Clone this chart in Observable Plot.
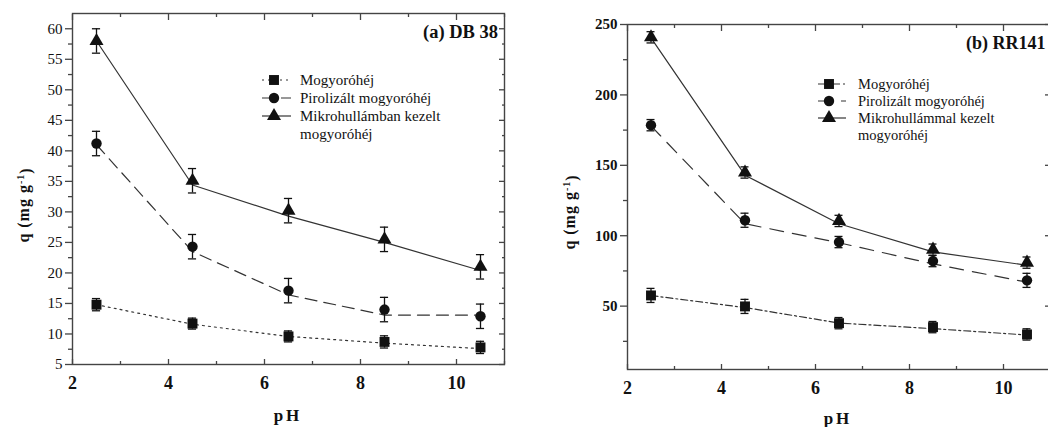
<!DOCTYPE html>
<html><head><meta charset="utf-8">
<script src="https://cdn.jsdelivr.net/npm/d3@7"></script>
<script src="https://cdn.jsdelivr.net/npm/@observablehq/plot@0.6"></script>
<style>
body{margin:0;width:1048px;height:427px;overflow:hidden;background:#fff;position:relative}
#a,#b{position:absolute;top:0;height:427px}
#a{left:0;width:530px}#b{left:545px;width:515px}
svg{overflow:visible;max-width:none !important;height:427px !important}
</style></head><body><div id="a"></div><div id="b"></div>
<script>
// ---------- data ----------
const pH = [2.5, 4.5, 6.5, 8.5, 10.5];

// Panel (a) DB 38
const aMogy = [14.8, 11.7, 9.6, 8.7, 7.8];
const aMogyErr = [1.0, 0.9, 0.9, 1.0, 1.0];
const aMogyFit = [14.8, 11.6, 9.6, 8.5, 7.6];
const aPiro = [41.2, 24.3, 17.1, 14.0, 12.9];
const aPiroErr = [2.0, 2.0, 2.0, 2.0, 2.0];
const aPiroFit = [41.0, 23.5, 16.4, 13.1, 13.1];
const aMikro = [58.0, 35.1, 30.2, 25.5, 21.0];
const aMikroErr = [2.0, 2.0, 2.0, 2.0, 2.0];
const aMikroFit = [58.0, 34.4, 29.3, 25.0, 20.4];
const aLegend = ["Mogyoróhéj", "Pirolizált mogyoróhéj", "Mikrohullámban kezelt", "mogyoróhéj"];
const aTitle = "(a) DB 38";
const aYTicks = [5, 10, 15, 20, 25, 30, 35, 40, 45, 50, 55, 60];
const aYMinor = [7.5, 12.5, 17.5, 22.5, 27.5, 32.5, 37.5, 42.5, 47.5, 52.5, 57.5];

// Panel (b) RR141
const bMogy = [57.6, 49.8, 37.9, 35.1, 29.9];
const bMogyErr = [5, 5, 4, 4, 4];
const bMogyFit = [57.5, 49.0, 38.0, 34.0, 29.5];
const bPiro = [178.5, 111.0, 95.5, 82.0, 68.3];
const bPiroErr = [4, 5, 4, 4, 5];
const bPiroFit = [178.0, 108.5, 95.0, 80.0, 67.0];
const bMikro = [240.9, 144.9, 110.5, 90.1, 80.9];
const bMikroErr = [4, 4, 4, 4, 4];
const bMikroFit = [240.5, 143.0, 108.5, 88.5, 79.0];
const bLegend = ["Mogyoróhéj", "Pirolizált mogyoróhéj", "Mikrohullámmal kezelt", "mogyoróhéj"];
const bTitle = "(b) RR141";
const bYTicks = [50, 100, 150, 200, 250];
const bYMinor = [25, 75, 125, 175, 225];

const xTicks = [2, 4, 6, 8, 10];
const xMinor = [3, 5, 7, 9, 11];
const xLabel = "pH";
const yLabel = "q (mg g";

const FONT = '"Liberation Serif", "Times New Roman", serif';
const INK = "#111";
const AX = "#444";

function rows(vals, errs, fits) {
  return pH.map((x, i) => ({x, v: vals[i], e: errs[i], f: fits[i]}));
}

function seriesMarks(data, symbol, r, dash) {
  const cap = 0.085;
  return [
    Plot.line(data, {x: "x", y: "f", stroke: "#333", strokeWidth: 1.2, strokeDasharray: dash}),
    Plot.ruleX(data, {x: "x", y1: d => d.v - d.e, y2: d => d.v + d.e, stroke: INK, strokeWidth: 1.3}),
    Plot.ruleY(data, {y: d => d.v + d.e, x1: d => d.x - cap, x2: d => d.x + cap, stroke: INK, strokeWidth: 1.3}),
    Plot.ruleY(data, {y: d => d.v - d.e, x1: d => d.x - cap, x2: d => d.x + cap, stroke: INK, strokeWidth: 1.3}),
    Plot.dot(data, {x: "x", y: "v", symbol, r, fill: INK, stroke: "none"})
  ];
}

function panel(cfg) {
  const yAxisFont = {fontSize: 15, fontWeight: cfg.yBold ? "bold" : "normal", letterSpacing: "2px"};
  const p = Plot.plot({
    width: cfg.width, height: 427,
    marginLeft: cfg.ml, marginRight: cfg.mr, marginTop: cfg.mt, marginBottom: cfg.mb,
    style: {fontFamily: FONT, color: INK, background: "transparent", overflow: "visible", maxWidth: "none"},
    x: {domain: [2, 11]},
    y: {domain: cfg.yDomain},
    marks: [
      Plot.frame({stroke: AX, strokeWidth: 1.4}),
      Plot.axisY(cfg.yTicks, {anchor: "left", tickSize: 7, tickPadding: 3, label: null, stroke: AX, strokeWidth: 1.3, ...yAxisFont}),
      Plot.axisY(cfg.yMinor, {anchor: "left", tickSize: 4, tickFormat: () => "", label: null, stroke: AX, strokeWidth: 1.3}),
      Plot.axisY(cfg.yTicks, {anchor: "right", tickSize: -6, tickFormat: () => "", label: null, stroke: AX, strokeWidth: 1.3}),
      Plot.axisY(cfg.yMinor, {anchor: "right", tickSize: -3, tickFormat: () => "", label: null, stroke: AX, strokeWidth: 1.3}),
      Plot.axisX(xTicks, {anchor: "bottom", tickSize: 0, tickPadding: 12, label: null, fontSize: 18, fontWeight: "bold"}),
      Plot.axisX(xTicks, {anchor: "bottom", tickSize: -5, tickFormat: () => "", label: null, stroke: AX, strokeWidth: 1.3}),
      Plot.axisX(xMinor, {anchor: "bottom", tickSize: -3, tickFormat: () => "", label: null, stroke: AX, strokeWidth: 1.3}),
      Plot.axisX(xTicks, {anchor: "top", tickSize: -6, tickFormat: () => "", label: null, stroke: AX, strokeWidth: 1.3}),
      Plot.axisX(xMinor, {anchor: "top", tickSize: -3, tickFormat: () => "", label: null, stroke: AX, strokeWidth: 1.3}),
      ...seriesMarks(cfg.s1, "square", 5.6, cfg.dash1),
      ...seriesMarks(cfg.s2, "circle", 5.2, cfg.dash2),
      ...seriesMarks(cfg.s3, "triangle", 5.2, null)
    ]
  });
  const svg = d3.select(p);
  svg.append("text").attr("x", cfg.title.x).attr("y", cfg.title.y)
    .attr("text-anchor", cfg.title.anchor).attr("font-size", cfg.title.size).attr("font-weight", "bold")
    .style("font-family", FONT).attr("fill", INK).text(cfg.title.text);
  const L = cfg.legend;
  const syms = [d3.symbolSquare, d3.symbolCircle, d3.symbolTriangle];
  const rs = [5.6, 5.2, 5.2];
  const dashes = [cfg.dash1, cfg.dash2, null];
  for (let i = 0; i < 3; i++) {
    const yy = L.y + i * L.dy;
    svg.append("line").attr("x1", L.x0).attr("x2", L.x1).attr("y1", yy).attr("y2", yy)
      .attr("stroke", "#333").attr("stroke-width", 1.2).attr("stroke-dasharray", dashes[i]);
    svg.append("path").attr("d", d3.symbol(syms[i], Math.PI * rs[i] * rs[i])())
      .attr("transform", `translate(${L.xm},${yy})`).attr("fill", INK);
  }
  L.texts.forEach((t, i) => {
    svg.append("text").attr("x", L.tx).attr("y", L.y + i * L.dy).attr("dy", "0.35em")
      .attr("text-anchor", "start")
      .attr("font-size", L.size).style("font-family", FONT).attr("fill", INK).text(t);
  });
  const yl = svg.append("text").attr("transform", `translate(${cfg.yl.x},${cfg.yl.y}) rotate(-90)`)
    .attr("text-anchor", "middle").attr("dy", "0.35em").attr("font-size", 16).attr("font-weight", "bold")
    .style("font-family", FONT).attr("fill", INK).attr("letter-spacing", "1px");
  yl.append("tspan").text(yLabel);
  yl.append("tspan").attr("dy", "-0.45em").attr("font-size", 10).text("-1");
  yl.append("tspan").attr("dy", "0.45em").text(")");
  svg.append("text").attr("x", cfg.xl.x).attr("y", cfg.xl.y).attr("text-anchor", "middle")
    .attr("font-size", 17).attr("font-weight", "bold").style("font-family", FONT).attr("fill", INK)
    .attr("letter-spacing", "3px").text(xLabel);
  return p;
}

document.getElementById("a").append(panel({
  width: 530, ml: 72, mr: 26, mt: 13, mb: 63, yDomain: [5, 62.5],
  yTicks: aYTicks, yMinor: aYMinor, yBold: false,
  s1: rows(aMogy, aMogyErr, aMogyFit), s2: rows(aPiro, aPiroErr, aPiroFit), s3: rows(aMikro, aMikroErr, aMikroFit),
  dash1: "2,4", dash2: "12,7",
  title: {text: aTitle, x: 498, y: 38, anchor: "end", size: 18.5},
  legend: {x0: 262, x1: 291, xm: 274, tx: 300, y: 80, dy: 18, size: 15, texts: aLegend},
  yl: {x: 23, y: 205}, xl: {x: 288, y: 421}
}));

document.getElementById("b").append(panel({
  width: 515, ml: 82, mr: 10, mt: 24, mb: 58, yDomain: [5, 250],
  yTicks: bYTicks, yMinor: bYMinor, yBold: true,
  s1: rows(bMogy, bMogyErr, bMogyFit), s2: rows(bPiro, bPiroErr, bPiroFit), s3: rows(bMikro, bMikroErr, bMikroFit),
  dash1: "7,3,2,3", dash2: "14,9",
  title: {text: bTitle, x: 966 - 545, y: 49, anchor: "start", size: 18},
  legend: {x0: 818 - 545, x1: 846 - 545, xm: 829 - 545, tx: 858 - 545, y: 84, dy: 17, size: 14.5, texts: bLegend},
  yl: {x: 569 - 545, y: 212}, xl: {x: 838 - 545, y: 424}
}));
</script></body></html>
